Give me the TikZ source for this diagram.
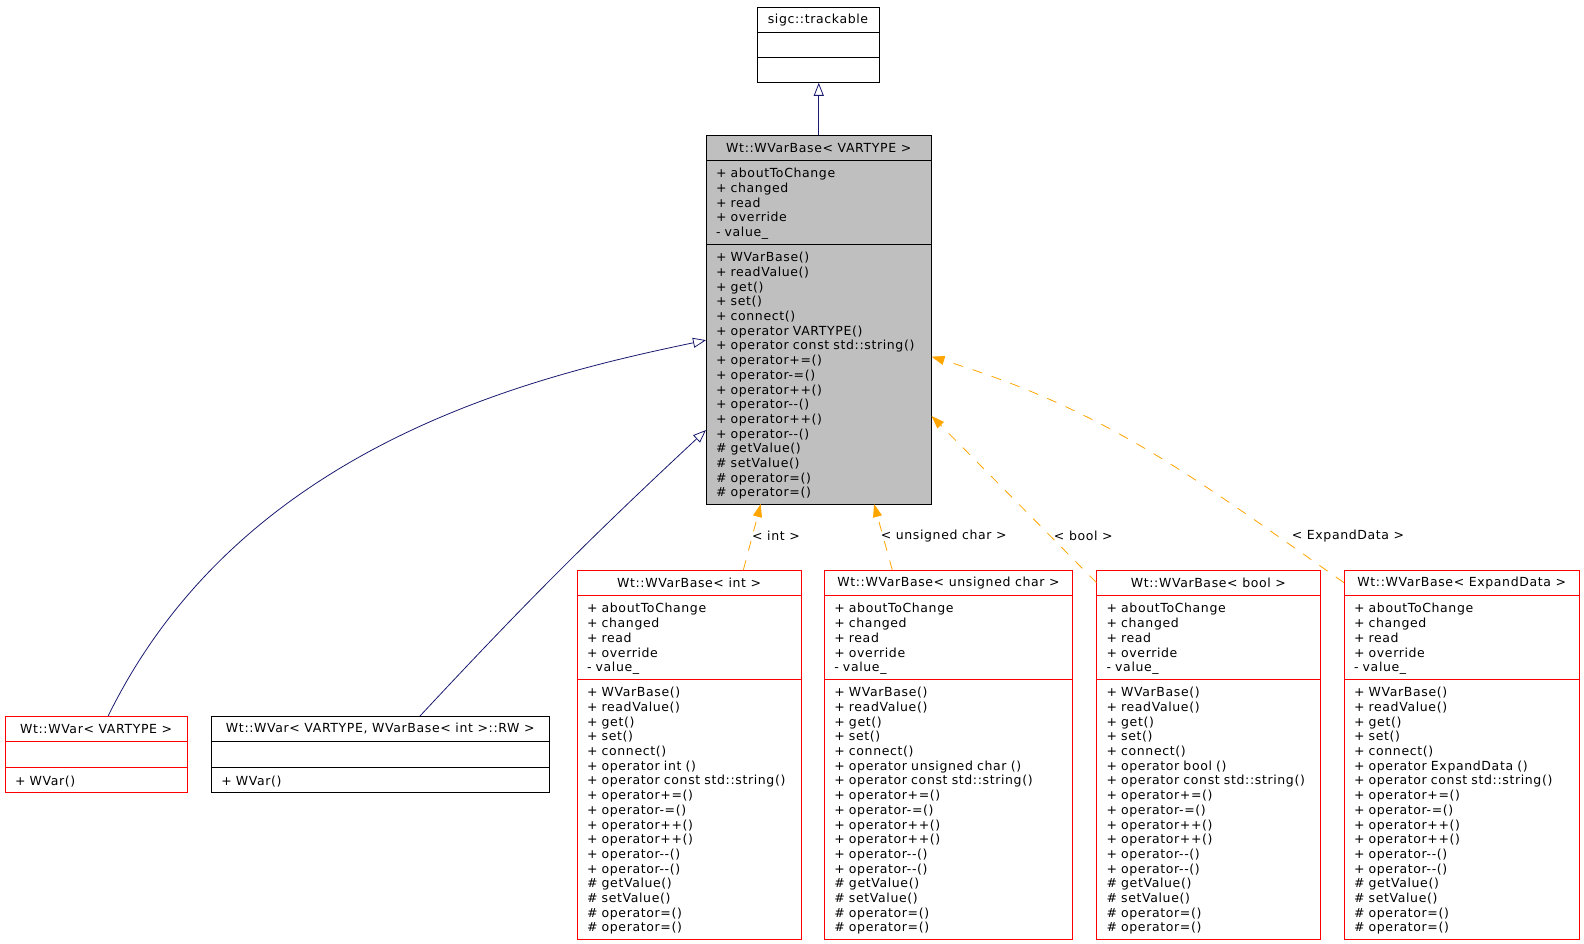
\documentclass[tikz,border=0pt]{standalone}
\usepackage{fontspec}
\usetikzlibrary{arrows.meta,positioning}
\newfontfamily\dox[LetterSpace=5.0]{DejaVu Sans}
\definecolor{navy}{HTML}{191970}
\definecolor{dorange}{HTML}{FFA500}
\definecolor{grey}{HTML}{BFBFBF}
\definecolor{dred}{HTML}{FF0000}

% member lists shared by the WVarBase boxes
\newcommand{\wvattrs}{+ aboutToChange\\+ changed\\+ read\\+ override\\- value\_}
\newcommand{\wvhead}{+ WVarBase()\\+ readValue()\\+ get()\\+ set()\\+ connect()}
\newcommand{\wvtail}{\# getValue()\\\# setValue()\\\# operator=()\\\# operator=()}
\newcommand{\wvmeths}[1]{\wvhead\\+ operator #1 ()\\+ operator const std::string()\\+ operator+=()\\+ operator-=()\\+ operator++()\\+ operator++()\\+ operator-{}-()\\+ operator-{}-()\\\wvtail}

\begin{document}
\begin{tikzpicture}[x=1pt, y=-1pt, font=\dox\fontsize{12.5}{14.7}\selectfont,
  box/.style={draw, outer sep=0pt, inner sep=0pt, line width=0.9pt},
  head/.style={box, minimum height=25pt, anchor=north west},
  part/.style={box, inner xsep=10pt, inner ysep=0pt, align=left,
    execute at begin node=\rule{0pt}{13pt}},
  inst/.style={draw=dred},
  inh/.style={draw=navy, line width=0.8pt, -{Triangle[open, length=13pt, width=10pt]}},
  tpl/.style={draw=dorange, line width=0.8pt, dash pattern=on 10pt off 10pt, -{Triangle[length=13pt, width=9pt, fill=dorange]}}]

\useasboundingbox (0,0) rectangle (1584,944);

% sigc::trackable
\node[head, minimum width=122pt] (trkT) at (757,7.5) {sigc::trackable};
\node[box, minimum width=122pt, minimum height=25.3pt, below=0pt of trkT] (trkA) {};
\node[box, minimum width=122pt, minimum height=25pt, below=0pt of trkA] (trkM) {};

% Wt::WVarBase< VARTYPE >
\node[head, fill=grey, minimum width=225.5pt, minimum height=24.5pt] (baseT) at (706,135.5) {Wt::WVarBase< VARTYPE >};
\node[part, fill=grey, text width=205.5pt, minimum height=84.3pt, below=0pt of baseT] (baseA) {\wvattrs};
\node[part, fill=grey, text width=205.5pt, minimum height=259.7pt, below=0pt of baseA] (baseM) {\wvhead\\+ operator VARTYPE()\\+ operator const std::string()\\+ operator+=()\\+ operator-=()\\+ operator++()\\+ operator-{}-()\\+ operator++()\\+ operator-{}-()\\\wvtail};

% Wt::WVar< VARTYPE >
\node[head, inst, minimum width=182.3pt, minimum height=25.7pt] (varT) at (5,716) {Wt::WVar< VARTYPE >};
\node[box, inst, minimum width=182.3pt, minimum height=25.6pt, below=0pt of varT] (varA) {};
\node[part, inst, text width=162.3pt, minimum height=24.7pt, below=0pt of varA] (varM) {+ WVar()};

% Wt::WVar< VARTYPE, WVarBase< int >::RW >
\node[head, minimum width=338pt, minimum height=25.7pt] (rwT) at (211.3,716) {Wt::WVar< VARTYPE, WVarBase< int >::RW >};
\node[box, minimum width=338pt, minimum height=25.6pt, below=0pt of rwT] (rwA) {};
\node[part, text width=318pt, minimum height=24.7pt, below=0pt of rwA] (rwM) {+ WVar()};

% Wt::WVarBase< int >
\node[head, inst, minimum width=224.3pt, minimum height=25.3pt] (intT) at (577,570) {Wt::WVarBase< int >};
\node[part, inst, text width=204.3pt, minimum height=84pt, below=0pt of intT] (intA) {\wvattrs};
\node[part, inst, text width=204.3pt, minimum height=259.7pt, below=0pt of intA] (intM) {\wvmeths{int}};

% Wt::WVarBase< unsigned char >
\node[head, inst, minimum width=248.4pt, minimum height=25.3pt] (ucharT) at (824.3,570) {Wt::WVarBase< unsigned char >};
\node[part, inst, text width=228.4pt, minimum height=84pt, below=0pt of ucharT] (ucharA) {\wvattrs};
\node[part, inst, text width=228.4pt, minimum height=259.7pt, below=0pt of ucharA] (ucharM) {\wvmeths{unsigned char}};

% Wt::WVarBase< bool >
\node[head, inst, minimum width=223.8pt, minimum height=25.3pt] (boolT) at (1096.5,570) {Wt::WVarBase< bool >};
\node[part, inst, text width=203.8pt, minimum height=84pt, below=0pt of boolT] (boolA) {\wvattrs};
\node[part, inst, text width=203.8pt, minimum height=259.7pt, below=0pt of boolA] (boolM) {\wvmeths{bool}};

% Wt::WVarBase< ExpandData >
\node[head, inst, minimum width=235.5pt, minimum height=25.3pt] (expT) at (1344,570) {Wt::WVarBase< ExpandData >};
\node[part, inst, text width=215.5pt, minimum height=84pt, below=0pt of expT] (expA) {\wvattrs};
\node[part, inst, text width=215.5pt, minimum height=259.7pt, below=0pt of expA] (expM) {\wvmeths{ExpandData}};

% inheritance
\draw[inh] (baseT.north) -- (baseT.north |- trkM.south);
\draw[inh] ([xshift=12pt]varT.north) .. controls (240,447) and (529,377) .. ([yshift=34pt]baseM.west);
\draw[inh] ([xshift=39.7pt]rwT.north) to[out=47, in=223] ([yshift=-55.9pt]baseM.west);

% template instances
\draw[tpl] ([xshift=54.2pt]intT.north) -- ([xshift=-58pt]baseM.south);
\draw[tpl] ([xshift=-56.2pt]ucharT.north) -- ([xshift=55.3pt]baseM.south);
\draw[tpl] (boolT.west) -- ([yshift=-41.8pt]baseM.east);
\draw[tpl] (expT.west) to[out=145, in=-17] ([yshift=17.5pt]baseM.east);

\node (lint) at (776,535.7) {< int >};
\node (luchar) at (943.7,535.7) {< unsigned char >};
\node (lbool) at (1083.3,535.7) {< bool >};
\node (lexp) at (1348,535.7) {< ExpandData >};

\end{tikzpicture}
\end{document}
